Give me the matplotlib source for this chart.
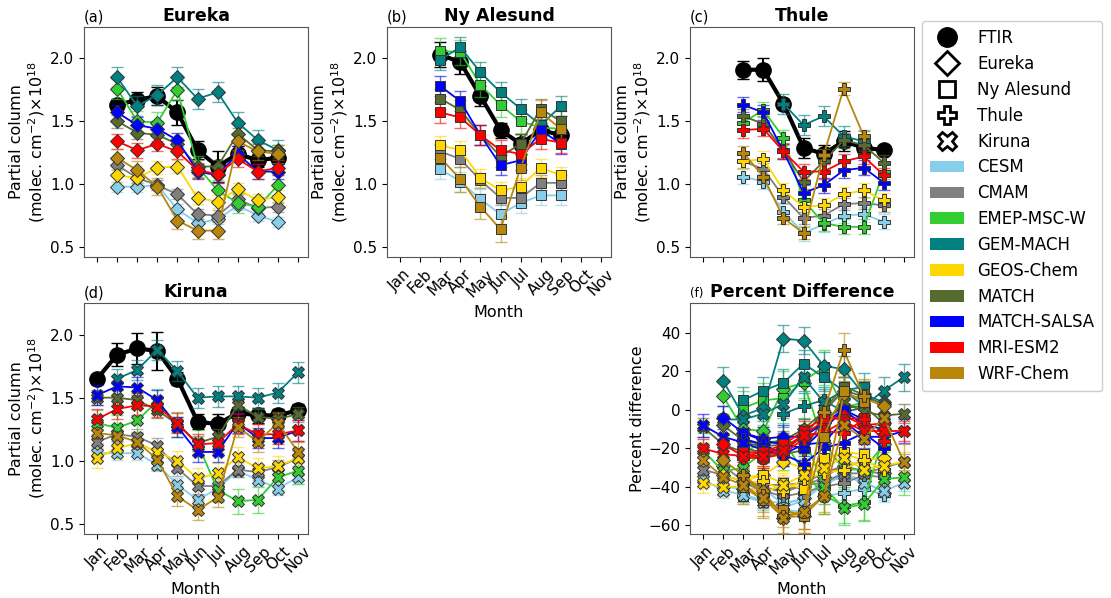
import matplotlib.pyplot as plt
from matplotlib.lines import Line2D
from matplotlib.patches import Patch
import numpy as np

nan = np.nan

MONTHS = ["Jan", "Feb", "Mar", "Apr", "May", "Jun", "Jul", "Aug", "Sep", "Oct", "Nov"]
MODELS = ["CESM", "CMAM", "EMEP-MSC-W", "GEM-MACH", "GEOS-Chem",
          "MATCH", "MATCH-SALSA", "MRI-ESM2", "WRF-Chem"]
COLORS = ["#87CEEB", "#808080", "#32CD32", "#008080", "#FFD700",
          "#556B2F", "#0000FF", "#FF0000", "#B8860B"]

# ---- Eureka (Feb-Oct) ----
EUREKA_MONTHS = [2, 3, 4, 5, 6, 7, 8, 9, 10]
EUREKA_FTIR = [1.63, 1.67, 1.70, 1.57, 1.27, 1.14, 1.24, 1.19, 1.21]
EUREKA_FTIR_ERR = [0.05, 0.06, 0.07, 0.10, 0.07, 0.12, 0.06, 0.05, 0.05]
EUREKA_MODELS = [
    [0.98, 0.98, 0.99, 0.80, 0.69, 0.72, 0.83, 0.75, 0.70],
    [1.15, 1.05, 0.99, 0.92, 0.76, 0.75, 0.88, 0.81, 0.82],
    [1.76, 1.50, 1.49, 1.75, 1.14, 0.95, 0.85, 0.82, 0.99],
    [1.85, 1.62, 1.71, 1.85, 1.68, 1.73, 1.49, 1.35, 1.27],
    [1.07, 1.05, 1.13, 1.14, 0.89, 0.86, 0.96, 0.87, 0.90],
    [1.50, 1.41, 1.39, 1.32, 1.14, 1.14, 1.40, 1.27, 1.26],
    [1.57, 1.47, 1.44, 1.35, 1.10, 1.07, 1.24, 1.10, 1.10],
    [1.34, 1.27, 1.32, 1.26, 1.11, 1.08, 1.20, 1.10, 1.13],
    [1.21, 1.11, 0.98, 0.71, 0.63, 0.63, 1.34, 1.26, 1.24],
]
EUREKA_MODEL_ERR = [0.04, 0.04, 0.08, 0.08, 0.05, 0.05, 0.06, 0.06, 0.07]
EUREKA_PCT = [
    [-40, -41, -41, -49, -46, -37, -33, -37, -43],
    [-29, -37, -41, -41, -40, -35, -29, -32, -33],
    [7, -10, -11, 11, 14, -17, -31, -31, -18],
    [15, -3, 1, 37, 36, 23, 21, 8, 4],
    [-34, -37, -34, -27, -30, -26, -23, -26, -25],
    [-8, -16, -18, -16, -10, -1, 10, 7, 3],
    [-4, -12, -15, -14, -14, -7, 0, -8, -10],
    [-18, -24, -22, -20, -13, -6, -3, -8, -7],
    [-26, -34, -42, -56, -55, -45, 8, 6, 2],
]

# ---- Ny Alesund (Mar-Sep) ----
NYA_MONTHS = [3, 4, 5, 6, 7, 8, 9]
NYA_FTIR = [2.03, 1.97, 1.70, 1.43, 1.32, 1.43, 1.39]
NYA_FTIR_ERR = [0.10, 0.09, 0.08, 0.06, 0.08, 0.06, 0.05]
NYA_MODELS = [
    [1.12, 1.02, 0.88, 0.76, 0.85, 0.91, 0.91],
    [1.26, 1.20, 1.03, 0.89, 0.89, 1.01, 1.01],
    [2.06, 2.05, 1.79, 1.63, 1.50, 1.45, 1.44],
    [1.99, 2.09, 1.89, 1.73, 1.60, 1.47, 1.62],
    [1.31, 1.27, 1.05, 0.95, 0.98, 1.13, 1.07],
    [1.68, 1.59, 1.39, 1.22, 1.32, 1.60, 1.50],
    [1.78, 1.66, 1.39, 1.15, 1.19, 1.43, 1.32],
    [1.57, 1.53, 1.39, 1.27, 1.24, 1.36, 1.33],
    [1.21, 1.04, 0.82, 0.64, 1.13, 1.57, 1.44],
]
NYA_MODEL_ERR = [0.08, 0.06, 0.10, 0.08, 0.07, 0.08, 0.08, 0.08, 0.10]
NYA_PCT = [
    [-45, -48, -48, -47, -36, -36, -35],
    [-38, -39, -39, -38, -33, -29, -27],
    [1, 5, 6, 15, 22, 1, 4],
    [5, 10, 14, 24, 17, 10, 12],
    [-35, -34, -38, -41, -25, -22, -23],
    [-17, -19, -18, -15, 0, 12, 8],
    [-12, -16, -18, -20, -10, 0, -5],
    [-22, -22, -18, -11, -4, -5, -4],
    [-40, -47, -52, -55, -14, 10, 4],
]

# ---- Thule (Mar-Oct) ----
THULE_MONTHS = [3, 4, 5, 6, 7, 8, 9, 10]
THULE_FTIR = [1.91, 1.91, 1.64, 1.29, 1.24, 1.34, 1.29, 1.27]
THULE_FTIR_ERR = [0.07, 0.09, 0.04, 0.08, 0.07, 0.08, 0.05, 0.03]
THULE_MODELS = [
    [1.06, 1.02, 0.78, 0.61, 0.68, 0.75, 0.76, 0.70],
    [1.18, 1.12, 0.90, 0.73, 0.75, 0.84, 0.85, 0.83],
    [1.49, 1.59, 1.37, 0.87, 0.69, 0.66, 0.66, 1.10],
    [nan, nan, 1.64, 1.47, 1.54, 1.38, 1.34, nan],
    [1.18, 1.20, 0.95, 0.82, 0.83, 0.92, 0.95, 0.87],
    [1.54, 1.48, 1.27, 1.02, 1.18, 1.35, 1.31, 1.17],
    [1.63, 1.57, 1.26, 0.93, 0.99, 1.11, 1.13, 1.01],
    [1.43, 1.44, 1.26, 1.10, 1.10, 1.18, 1.22, 1.07],
    [1.25, 1.06, 0.73, 0.61, 1.23, 1.76, 1.38, nan],
]
THULE_MODEL_ERR = [0.06, 0.05, 0.06, 0.08, 0.06, 0.06, 0.06, 0.06, 0.05]
THULE_PCT = [
    [-44, -47, -52, -53, -45, -43, -41, -44],
    [-38, -42, -45, -43, -40, -38, -34, -35],
    [-22, -17, -16, -32, -44, -50, -48, -13],
    [nan, nan, -2, 2, 5, -1, 1, nan],
    [-38, -37, -42, -36, -33, -31, -26, -31],
    [-20, -22, -23, -21, -5, 1, 2, -7],
    [-15, -18, -23, -28, -20, -17, -12, -20],
    [-25, -25, -23, -15, -11, -12, -5, -16],
    [-34, -44, -55, -53, -1, 31, 7, nan],
]

# ---- Kiruna (Jan-Nov) ----
KIRUNA_MONTHS = [1, 2, 3, 4, 5, 6, 7, 8, 9, 10, 11]
KIRUNA_FTIR = [1.65, 1.84, 1.89, 1.87, 1.65, 1.31, 1.29, 1.38, 1.36, 1.36, 1.40]
KIRUNA_FTIR_ERR = [0.04, 0.09, 0.12, 0.15, 0.05, 0.06, 0.08, 0.05, 0.06, 0.05, 0.05]
KIRUNA_MODELS = [
    [1.06, 1.06, 1.06, 0.97, 0.81, 0.69, 0.78, 0.92, 0.85, 0.78, 0.87],
    [1.15, 1.21, 1.19, 1.12, 0.94, 0.80, 0.80, 0.93, 0.91, 0.95, 1.02],
    [1.30, 1.26, 1.32, 1.47, 1.29, 1.14, 0.77, 0.68, 0.69, 0.87, 0.92],
    [nan, 1.65, 1.72, 1.88, 1.71, 1.50, 1.51, 1.51, 1.50, 1.54, 1.70],
    [1.02, 1.10, 1.14, 1.07, 1.00, 0.86, 0.90, 1.03, 0.94, 0.96, 1.02],
    [1.50, 1.50, 1.48, 1.40, 1.29, 1.14, 1.19, 1.44, 1.35, 1.33, 1.37],
    [1.52, 1.59, 1.58, 1.48, 1.27, 1.07, 1.07, 1.30, 1.18, 1.18, 1.24],
    [1.33, 1.41, 1.44, 1.43, 1.30, 1.13, 1.14, 1.29, 1.21, 1.21, 1.24],
    [1.22, 1.20, 1.15, 1.01, 0.72, 0.61, 0.71, 1.27, 1.15, 1.30, 1.07],
]
KIRUNA_MODEL_ERR = [0.05, 0.06, 0.10, 0.08, 0.08, 0.06, 0.08, 0.08, 0.08]
KIRUNA_PCT = [
    [-36, -42, -44, -48, -51, -47, -39, -34, -38, -42, -38],
    [-31, -34, -37, -40, -43, -39, -38, -33, -33, -30, -27],
    [-21, -32, -30, -22, -22, -13, -40, -51, -49, -36, -35],
    [nan, -5, -5, -2, 3, 17, 4, 10, 2, 10, 17],
    [-38, -40, -40, -43, -39, -34, -30, -25, -31, -29, -27],
    [-9, -18, -22, -25, -22, -13, -7, 4, -1, -3, -2],
    [-8, -14, -17, -21, -23, -18, -17, -6, -14, -14, -11],
    [-20, -23, -24, -24, -21, -13, -12, -6, -11, -11, -11],
    [-26, -35, -39, -46, -56, -53, -45, -8, -15, -4, -27],
]

PCT_ERR = [4, 4, 9, 7, 5, 5, 6, 5, 9]

SITE_MARKERS = {"Eureka": "D", "Ny Alesund": "s", "Thule": "P", "Kiruna": "X"}
MARKER_SIZE = {"D": 7, "s": 7, "P": 8.5, "X": 8.5}

W, H = 1111, 598
YLABEL = "Partial column\n(molec. cm$^{-2}$)$\\times$10$^{18}$"


def px_axes(fig, left, top, right, bottom):
    return fig.add_axes([left / W, 1 - bottom / H, (right - left) / W, (bottom - top) / H])


def draw_series(ax, months, vals, err, color, marker, z):
    ax.errorbar(months, vals, yerr=err, fmt="none", ecolor=color, elinewidth=1.0,
                capsize=4, alpha=0.6, zorder=z)
    ax.plot(months, vals, color=color, lw=1.3, marker=marker, ms=MARKER_SIZE[marker],
            mfc=color, mec="#333333", mew=0.7, zorder=z + 0.5)


def draw_site(ax, months, ftir, ftir_err, models, model_err, marker):
    ax.errorbar(months, ftir, yerr=ftir_err, color="black", marker="o", ms=11, lw=3,
                elinewidth=1.5, capsize=4, zorder=2)
    for i, (vals, err, color) in enumerate(zip(models, model_err, COLORS)):
        draw_series(ax, months, vals, err, color, marker, 3 + 0.01 * i)


def style_axes(ax, letter, title, show_labels, ylabel):
    ax.set_xlim(0.35, 11.5)
    ax.set_xticks(range(1, 12))
    if show_labels:
        ax.set_xticklabels(MONTHS, rotation=45, fontsize=11)
        ax.set_xlabel("Month", fontsize=11.5)
    else:
        ax.set_xticklabels([])
    ax.tick_params(axis="y", labelsize=11)
    ax.set_ylabel(ylabel, fontsize=11.5, labelpad=2, linespacing=1.15)
    ax.set_title(title, fontweight="bold", fontsize=12.5, pad=4)
    ax.set_title(letter, loc="left", fontsize=10.5 if letter != "(f)" else 8.5, pad=4)
    for sp in ax.spines.values():
        sp.set_color("#555555")


def main():
    fig = plt.figure(figsize=(W / 100, H / 100), dpi=100)
    fig.patch.set_facecolor("white")

    ax_a = px_axes(fig, 84, 27, 308, 257)
    ax_b = px_axes(fig, 387, 27, 611, 257)
    ax_c = px_axes(fig, 690, 27, 914, 257)
    ax_d = px_axes(fig, 84, 303, 308, 534)
    ax_f = px_axes(fig, 690, 303, 914, 534)

    sites = [
        (ax_a, "(a)", "Eureka", EUREKA_MONTHS, EUREKA_FTIR, EUREKA_FTIR_ERR,
         EUREKA_MODELS, EUREKA_MODEL_ERR, EUREKA_PCT, False),
        (ax_b, "(b)", "Ny Alesund", NYA_MONTHS, NYA_FTIR, NYA_FTIR_ERR,
         NYA_MODELS, NYA_MODEL_ERR, NYA_PCT, True),
        (ax_c, "(c)", "Thule", THULE_MONTHS, THULE_FTIR, THULE_FTIR_ERR,
         THULE_MODELS, THULE_MODEL_ERR, THULE_PCT, False),
        (ax_d, "(d)", "Kiruna", KIRUNA_MONTHS, KIRUNA_FTIR, KIRUNA_FTIR_ERR,
         KIRUNA_MODELS, KIRUNA_MODEL_ERR, KIRUNA_PCT, True),
    ]

    for ax, letter, name, months, ftir, ferr, models, merr, pct, show in sites:
        marker = SITE_MARKERS[name]
        draw_site(ax, months, ftir, ferr, models, merr, marker)
        style_axes(ax, letter, name, show, YLABEL)
        ax.set_ylim(0.42, 2.25)
        ax.set_yticks([0.5, 1.0, 1.5, 2.0])

        # percent difference panel
        for i, (vals, color) in enumerate(zip(pct, COLORS)):
            draw_series(ax_f, months, vals, PCT_ERR[i], color, marker, 3 + 0.01 * i)

    style_axes(ax_f, "(f)", "Percent Difference", True, "Percent difference")
    ax_f.set_ylim(-64.5, 55.5)
    ax_f.set_yticks([-60, -40, -20, 0, 20, 40])

    handles = [
        Line2D([], [], ls="none", marker="o", ms=14, color="black", label="FTIR"),
        Line2D([], [], ls="none", marker="D", ms=12, mfc="white", mec="black", mew=2, label="Eureka"),
        Line2D([], [], ls="none", marker="s", ms=12, mfc="white", mec="black", mew=2, label="Ny Alesund"),
        Line2D([], [], ls="none", marker="P", ms=13, mfc="white", mec="black", mew=2, label="Thule"),
        Line2D([], [], ls="none", marker="X", ms=13, mfc="white", mec="black", mew=2, label="Kiruna"),
    ]
    handles += [Patch(facecolor=c, label=m) for m, c in zip(MODELS, COLORS)]
    fig.legend(handles=handles, loc="upper left", bbox_to_anchor=(922 / W, 1 - 21 / H),
               fontsize=12, labelspacing=0.47, handlelength=2.0, borderaxespad=0,
               borderpad=0.5, framealpha=1)

    fig.savefig("out.png", dpi=100)
    plt.close(fig)


if __name__ == "__main__":
    main()
